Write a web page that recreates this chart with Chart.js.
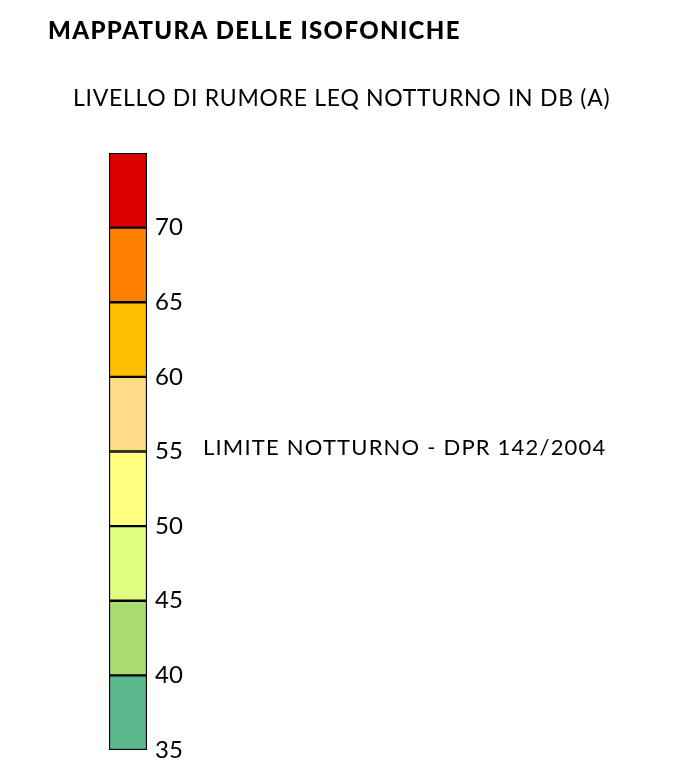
<!DOCTYPE html>
<html>
<head>
<meta charset="utf-8">
<script src="https://cdn.jsdelivr.net/npm/chart.js@4"></script>
<style>
  html, body { margin: 0; padding: 0; background: #fff; }
  #wrap { width: 688px; height: 774px; }
</style>
</head>
<body>
<div id="wrap"><canvas id="legendChart"></canvas></div>
<script>
// Noise bands (dB(A)), bottom to top
const bandStarts = [35, 40, 45, 50, 55, 60, 65, 70];
const bandEnds = [40, 45, 50, 55, 60, 65, 70, 75];
const bandColors = ['#5bb88c', '#a8dc70', '#dfff80', '#ffff80', '#ffdb88', '#ffbf00', '#ff8000', '#dc0000'];
const tickValues = [35, 40, 45, 50, 55, 60, 65, 70];

const titleText = 'MAPPATURA DELLE ISOFONICHE';
const subtitleText = 'LIVELLO DI RUMORE LEQ NOTTURNO IN DB (A)';
const limitText = 'LIMITE NOTTURNO - DPR 142/2004';
const limitValue = 55;

const fontFamily = 'Lato, "Noto Sans", sans-serif';

// Titles and the night limit note
const textPlugin = {
    id: 'legendTexts',
    afterDraw(chart) {
        const ctx = chart.ctx;
        const y = chart.scales.y;
        ctx.save();
        ctx.fillStyle = '#000';
        ctx.textBaseline = 'alphabetic';
        ctx.textAlign = 'left';

        ctx.font = '900 24px ' + fontFamily;
        ctx.letterSpacing = '1.35px';
        ctx.fillText(titleText, 48, 39);

        ctx.font = '23px ' + fontFamily;
        ctx.letterSpacing = '0.7px';
        ctx.fillText(subtitleText, 73, 106);

        ctx.font = '22px ' + fontFamily;
        ctx.letterSpacing = '1.2px';
        ctx.fillText(limitText, 203, y.getPixelForValue(limitValue) + 3);
        ctx.restore();
    }
};

const datasets = bandStarts.map((start, i) => ({
    label: start + '-' + bandEnds[i],
    data: [[start, bandEnds[i]]],
    backgroundColor: bandColors[i],
    borderColor: '#000',
    borderWidth: 1.5,
    borderSkipped: false,
    barPercentage: 1,
    categoryPercentage: 1
}));

new Chart(document.getElementById('legendChart'), {
    type: 'bar',
    data: { labels: [''], datasets: datasets },
    options: {
        responsive: true,
        maintainAspectRatio: false,
        animation: false,
        layout: { padding: { left: 109, top: 153, bottom: 24, right: 0 } },
        plugins: {
            legend: { display: false },
            tooltip: { enabled: false }
        },
        scales: {
            x: { stacked: true, display: false },
            y: {
                position: 'right',
                min: 35,
                max: 75,
                grid: { display: false, drawTicks: false },
                border: { display: false },
                afterBuildTicks(scale) {
                    scale.ticks = tickValues.map(v => ({ value: v }));
                },
                afterFit(scale) {
                    scale.width = 688 - 147;
                },
                ticks: {
                    padding: 8,
                    color: '#000',
                    font: { family: fontFamily, size: 24 }
                }
            }
        }
    },
    plugins: [textPlugin]
});
</script>
</body>
</html>
